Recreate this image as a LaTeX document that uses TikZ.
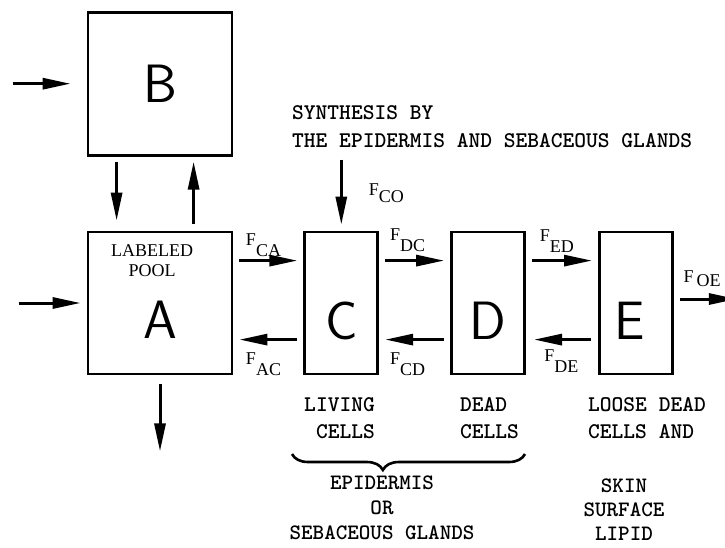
\documentclass[tikz,border=0pt]{standalone}
\usepackage{fontspec}
\setmainfont{Liberation Serif}
\usetikzlibrary{arrows.meta, positioning, decorations.pathreplacing}
\newcommand{\flux}[2][11pt]{F\raisebox{-#1}{#2}}

\begin{document}
\begin{tikzpicture}[
  x=1pt, y=-1pt,
  every node/.style={inner sep=0pt},
  pool/.style={rectangle, draw, line width=2.8pt, minimum width=144pt,
               minimum height=142pt},
  cell/.style={rectangle, draw, line width=2.8pt, minimum width=73pt,
               minimum height=142pt},
  letter/.style={font=\sffamily\fontsize{54}{54}\selectfont},
  flux/.style={font=\fontsize{18}{18}\selectfont},
  tag/.style={font=\fontsize{18}{20}\selectfont, align=center},
  note/.style={font=\ttfamily\bfseries\fontsize{22.4}{27}\selectfont},
  flow/.style={-{Triangle[length=28pt, width=11pt]}, line width=3pt},
  curly/.style={decorate, decoration={brace, mirror, amplitude=16pt,
                aspect=0.39}, line width=2.6pt},
]
\useasboundingbox (0,0) rectangle (725,547);

\node[pool] (A) at (160,303) {};
\node[pool, minimum height=143pt, above=74pt of A] (B) {};
\node[cell, right=70pt of A] (C) {};
\node[cell, right=71pt of C] (D) {};
\node[cell, right=72pt of D] (E) {};

\node[letter] (lB) at (B) {B};
\node[letter] (lA) at ([yshift=-17pt]A.center) {A};
\node[letter] (lC) at ([yshift=-18pt]C.center) {C};
\node[letter] (lD) at ([yshift=-18pt]D.center) {D};
\node[letter] (lE) at ([xshift=-6pt, yshift=-18pt]E.center) {E};
\node[tag] (lbl) at (152,261) {LABELED\\POOL};

\coordinate[left=74pt of B] (inB);
\coordinate[left=68pt of A] (inA);
\coordinate[below=76pt of A] (outA);
\coordinate[above=71pt of C] (srcC);
\coordinate[right=63pt of E, yshift=4pt] (outE);

\draw[flow, shorten >=16pt] (inB) -- (B.west);
\draw[flow, shorten >=6pt] (inA) -- (A.west);
\draw[flow, shorten <=9pt] (A.south) -- (outA);
\draw[flow, shorten <=5pt, shorten >=10pt] ([xshift=30pt]B.south west) -- ([xshift=30pt]A.north west);
\draw[flow, shorten <=7pt, shorten >=5pt] ([xshift=107pt]A.north west) -- ([xshift=107pt]B.south west);

\draw[flow, shorten <=6pt, shorten >=6pt] ([yshift=-30pt]A.north east) -- ([yshift=-30pt]C.north west)
  node[flux, pos=0.43, above=2pt] (fca) {\flux{CA}};
\draw[flow, shorten <=6pt, shorten >=6pt] ([yshift=-109pt]C.north west) -- ([yshift=-109pt]A.north east)
  node[flux, pos=0.57, below=12pt] (fac) {\flux{AC}};
\draw[flow, shorten <=6pt, shorten >=6pt] ([yshift=-30pt]C.north east) -- ([yshift=-30pt]D.north west)
  node[flux, pos=0.4, above=7pt] (fdc) {\flux{DC}};
\draw[flow, shorten <=6pt, shorten >=6pt] ([yshift=-109pt]D.north west) -- ([yshift=-109pt]C.north east)
  node[flux, pos=0.6, below=12pt] (fcd) {\flux{CD}};
\draw[flow, shorten <=6pt, shorten >=6pt] ([yshift=-30pt]D.north east) -- ([yshift=-30pt]E.north west)
  node[flux, pos=0.43, above=7pt] (fed) {\flux{ED}};
\draw[flow, shorten <=7pt, shorten >=8pt] ([yshift=-109pt]E.north west) -- ([yshift=-109pt]D.north east)
  node[flux, pos=0.51, below=9pt] (fde) {\flux{DE}};
\draw[flow, shorten <=6pt] (outE -| E.east) -- (outE)
  node[flux, pos=0.45, above=11pt] (foe) {\flux[4pt]{\,OE}};
\draw[flow, shorten >=6pt] (srcC) -- (C.north)
  node[flux, pos=0.47, right=26pt] (fco) {\flux[7pt]{CO}};

\node[note, align=left, anchor=west, font=\ttfamily\bfseries\fontsize{22.4}{28}\selectfont] (synth) at (292,127)
  {SYNTHESIS BY\\THE EPIDERMIS AND SEBACEOUS GLANDS};
\node[note, align=right, anchor=east] (living) at (375,418) {LIVING\\CELLS};
\node[note, align=left, anchor=west] (dead) at (460,418) {DEAD\\CELLS};
\draw[curly] (292,454) -- (525,454);
\node[note, align=center, font=\ttfamily\bfseries\fontsize{22}{25}\selectfont] (epi) at (382,508)
  {EPIDERMIS\\OR\\SEBACEOUS GLANDS};
\node[note, align=left, anchor=west] (loose) at (588,418) {LOOSE DEAD\\CELLS AND};
\node[note, align=center, font=\ttfamily\bfseries\fontsize{22}{24}\selectfont] (lipid) at (624,510)
  {SKIN\\SURFACE\\LIPID};
\end{tikzpicture}
\end{document}
